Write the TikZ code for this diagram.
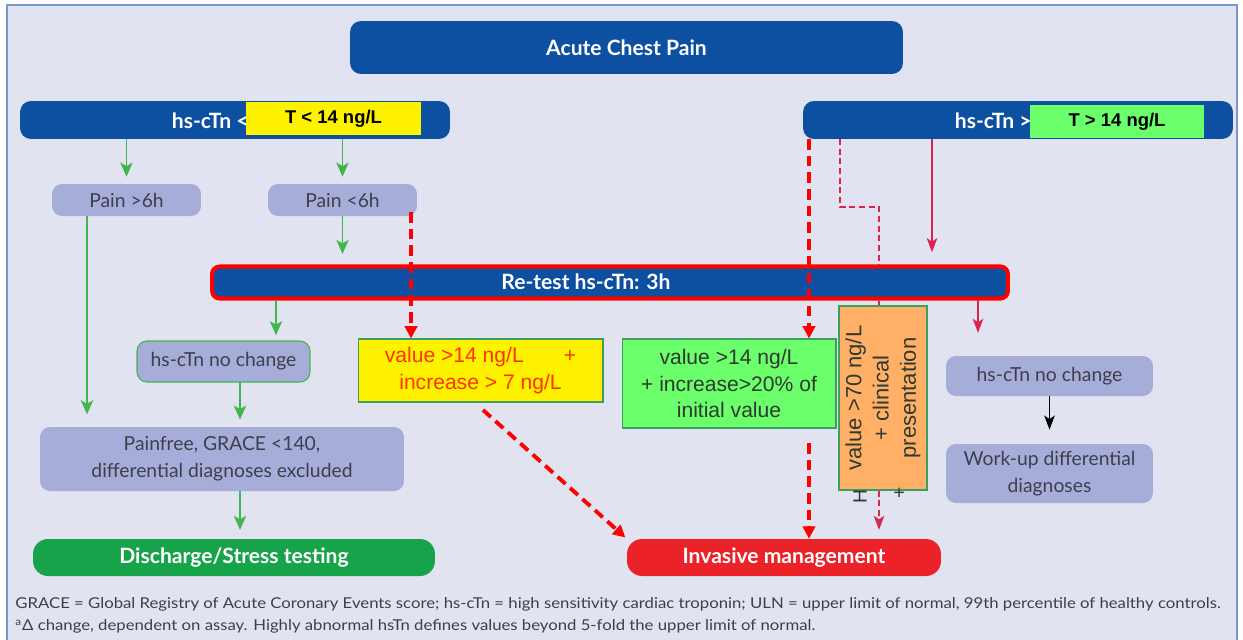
\documentclass[tikz,border=0pt]{standalone}
\usepackage{fontspec}
\setmainfont{Lato}
\newfontfamily\arialfont{Liberation Sans}
\usetikzlibrary{arrows.meta, positioning}
\definecolor{bgcol}{HTML}{E1E3F0}
\definecolor{framecol}{HTML}{7A98CC}
\definecolor{barblue}{HTML}{0D4FA0}
\definecolor{softblue}{HTML}{A6ADD9}
\definecolor{softtext}{HTML}{3E3E4C}
\definecolor{arrgreen}{HTML}{43B54E}
\definecolor{crimson}{HTML}{DC2450}
\definecolor{dischgreen}{HTML}{17A34A}
\definecolor{invred}{HTML}{EC2229}
\definecolor{tagGreen}{HTML}{6BFF6B}
\definecolor{orangebox}{HTML}{FFB066}
\definecolor{boxline}{HTML}{3E9E5E}
\definecolor{redtext}{HTML}{FF3300}
\definecolor{darktext}{HTML}{2E3A2E}

\begin{document}
\begin{tikzpicture}[x=0.02cm, y=-0.02cm,
    bluebar/.style={fill=barblue, rounded corners=0.22cm, inner sep=0pt},
    bartext/.style={text=white, font=\bfseries\fontsize{12}{14}\selectfont, inner sep=0pt},
    tag/.style={font=\arialfont\bfseries\fontsize{10.5}{12}\selectfont, inner sep=0pt},
    softbox/.style={fill=softblue, rounded corners=0.2cm, text=softtext, font=\fontsize{11}{15.3}\selectfont, align=center, inner sep=0pt},
    endbox/.style={rounded corners=0.3cm, text=white, font=\bfseries\fontsize{12}{14}\selectfont, inner sep=0pt},
    resbox/.style={draw=boxline, line width=0.6pt, font=\arialfont\fontsize{12}{15.3}\selectfont, align=center, inner sep=0pt},
    grarrow/.style={draw=arrgreen, line width=0.9pt, -{Stealth[length=8pt,width=7pt,inset=2pt]}},
    reddash/.style={draw=red, line width=2.2pt, dash pattern=on 6pt off 3.5pt, -{Triangle[length=7pt,width=7pt]}},
    pinkdash/.style={draw=crimson, line width=0.8pt, dash pattern=on 3.5pt off 2pt},
    pinkarrow/.style={draw=crimson, line width=0.8pt, -{Stealth[length=8pt,width=6pt,inset=2pt]}},
    blkarrow/.style={draw=black, line width=0.9pt, -{Stealth[length=8pt,width=6pt,inset=2pt]}}]
    \useasboundingbox (0,0) rectangle (1243,639);
    \fill[white] (0,0) rectangle (1243,639);
    \draw[framecol, fill=bgcol, line width=0.8pt] (7,5) rectangle (1237,700);

    \node[bluebar, bartext, minimum width=11.06cm, minimum height=1.06cm] (acp) at (626.5,47.5) {Acute Chest Pain};

    \node[bluebar, minimum width=8.6cm, minimum height=0.76cm] (lbar) at (235,120) {};
    \node[bartext, anchor=east] (ltxt) at (249,121) {hs-cTn <};
    \node[tag, fill=yellow, minimum width=3.5cm, minimum height=0.66cm] (ltag) at (333.5,118.5) {T < 14 ng/L};

    \node[bluebar, minimum width=8.6cm, minimum height=0.76cm] (rbar) at (1018,120) {};
    \node[bartext, anchor=east] (rtxt) at (1032,121) {hs-cTn >};
    \node[tag, fill=tagGreen, minimum width=3.48cm, minimum height=0.66cm] (rtag) at (1117,121.5) {T > 14 ng/L};

    \node[softbox, minimum width=2.98cm, minimum height=0.64cm] (p6l) at (126.5,200) {Pain >6h};
    \node[softbox, minimum width=2.98cm, minimum height=0.64cm] (p6s) at (342.5,200) {Pain <6h};

    \node[bluebar, draw=red, line width=2.3pt, rounded corners=0.15cm, minimum width=15.92cm, minimum height=0.64cm] (retest) at (610,282.5) {};
    \node[bartext] (rtesttxt) at (586,282) {Re-test hs-cTn: 3h};

    \node[softbox, draw=arrgreen, line width=0.6pt, minimum width=3.46cm, minimum height=0.82cm] (nochl) at (223.5,361.5) {hs-cTn no change};
    \node[softbox, minimum width=7.28cm, minimum height=1.28cm] (painfree) at (222,459) {Painfree, GRACE <140,\\differential diagnoses excluded};
    \node[endbox, fill=dischgreen, minimum width=8.04cm, minimum height=0.74cm] (discharge) at (234,557.5) {Discharge/Stress testing};

    \node[resbox, fill=yellow, text=redtext, minimum width=4.9cm, minimum height=1.26cm] (ybox) at (480.5,370.5) {value >14 ng/L\hspace{1.9em}+\\increase > 7 ng/L};
    \node[resbox, fill=tagGreen, text=darktext, minimum width=4.28cm, minimum height=1.78cm] (gbox) at (729,383.5) {value >14 ng/L\\+ increase>20\% of\\initial value};
    \node[resbox, fill=orangebox, minimum width=1.76cm, minimum height=3.68cm] (obox) at (883,398) {};
    \node[font=\arialfont\fontsize{12.5}{15.5}\selectfont, text=darktext, align=center, rotate=90] (otxt) at (obox.center) {value >70 ng/L\\+ clinical\\presentation};
    \node[font=\arialfont\fontsize{11}{13}\selectfont, text=darktext, rotate=90, inner sep=0pt] (oflowa) at (860,497) {H};
    \node[font=\arialfont\fontsize{11}{13}\selectfont, text=darktext, rotate=90, inner sep=0pt] (oflowb) at (900,493) {+};

    \node[endbox, fill=invred, minimum width=6.28cm, minimum height=0.74cm] (invasive) at (784,557.5) {Invasive management};

    \node[softbox, minimum width=4.14cm, minimum height=0.8cm] (nochr) at (1049.5,376) {hs-cTn no change};
    \node[softbox, minimum width=4.14cm, minimum height=1.18cm] (workup) at (1049.5,473.5) {Work-up differential\\diagnoses};

    \coordinate (g1) at (87,216);
    \coordinate (g2) at (276,300);
    \coordinate (g3) at (240,382);
    \coordinate (g4) at (240,491);
    \draw[grarrow, shorten >=4pt] (lbar.south -| p6l) -- (p6l.north);
    \draw[grarrow, shorten >=4pt] (lbar.south -| p6s) -- (p6s.north);
    \draw[grarrow, shorten >=6pt] (p6s.south) -- (p6s.south |- retest.north);
    \draw[grarrow, shorten >=7pt] (g1) -- (g1 |- painfree.north);
    \draw[grarrow, shorten >=3pt] (g2) -- (g2 |- nochl.north);
    \draw[grarrow, shorten >=4pt] (g3) -- (g3 |- painfree.north);
    \draw[grarrow, shorten >=5pt] (g4) -- (g4 |- discharge.north);

    \coordinate (k1) at (840,139);
    \coordinate (k2) at (879,207);
    \coordinate (k3) at (932,139);
    \coordinate (k4) at (978,300);
    \draw[pinkdash] (k1) |- (k2) -- (k2 |- retest.north);
    \draw[pinkdash] (k2 |- retest.south) -- (k2 |- obox.north);
    \draw[pinkdash, -{Stealth[length=8pt,width=6pt,inset=2pt]}, shorten >=5pt] (k2 |- obox.south) -- (k2 |- invasive.north);
    \draw[pinkarrow, shorten >=7pt] (k3) -- (k3 |- retest.north);
    \draw[pinkarrow, shorten >=13pt] (k4) -- (k4 |- nochr.north);
    \draw[blkarrow, shorten >=8pt] (nochr.south) -- (workup.north);

    \coordinate (r1) at (411,212);
    \coordinate (r2) at (809,139);
    \coordinate (r3) at (809,443);
    \coordinate (r4) at (483,410);
    \draw[reddash] (r1) -- (r1 |- ybox.north);
    \draw[reddash] (r2) -- (r2 |- gbox.north);
    \draw[reddash] (r3) -- (r3 |- invasive.north);
    \draw[reddash, shorten >=1pt] (r4) -- (invasive.north west);

    \node[anchor=west, text=softtext, font=\fontsize{8.5}{10}\selectfont, inner sep=0pt] (foot1) at (15,604) {\scalebox{1.12}[1]{GRACE = Global Registry of Acute Coronary Events score; hs-cTn = high sensitivity cardiac troponin; ULN = upper limit of normal, 99th percentile of healthy controls.}};
    \node[anchor=west, text=softtext, font=\fontsize{8.5}{10}\selectfont, inner sep=0pt] (foot2) at (15,626) {\scalebox{1.12}[1]{\textsuperscript{a}Δ change, dependent on assay. Highly abnormal hsTn defines values beyond 5-fold the upper limit of normal.}};
\end{tikzpicture}
\end{document}
